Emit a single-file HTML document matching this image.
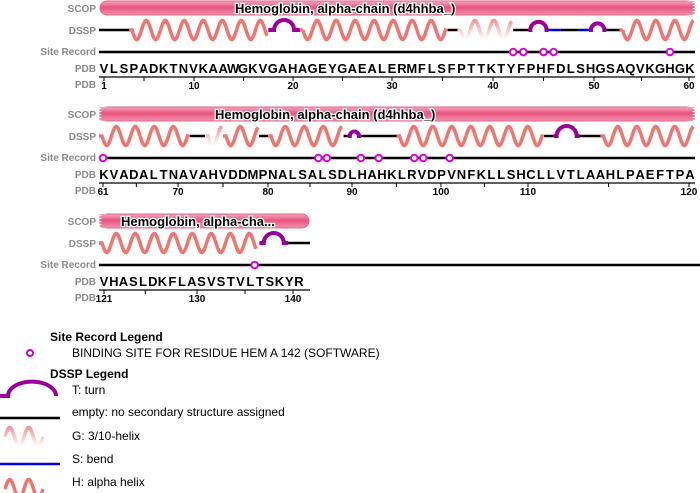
<!DOCTYPE html>
<html><head><meta charset="utf-8"><style>
body{margin:0;background:#fff;width:700px;height:493px;overflow:hidden;font-family:"Liberation Sans",sans-serif}
svg{display:block}
.lbl{font:bold 10px "Liberation Sans",sans-serif;fill:#8a8a8a;text-anchor:end}
.seq{font:bold 13px "Liberation Sans",sans-serif;fill:#000;text-anchor:middle}
.num{font:bold 10px "Liberation Sans",sans-serif;fill:#000;text-anchor:middle}
.scopt{font:bold 13px "Liberation Sans",sans-serif;fill:#000;stroke:#fff;stroke-width:2.5px;paint-order:stroke}
.lg{font:12px "Liberation Sans",sans-serif;fill:#000}
.lgh{font:bold 12px "Liberation Sans",sans-serif;fill:#000}
</style></head><body>
<svg id="c" width="700" height="493">
<defs>
<linearGradient id="scopg" x1="0" y1="0" x2="0" y2="1">
<stop offset="0" stop-color="#f7a6bf"/><stop offset="0.45" stop-color="#e8557f"/><stop offset="1" stop-color="#f291ad"/></linearGradient>
<linearGradient id="gg" x1="0" y1="0" x2="0" y2="1">
<stop offset="0" stop-color="#f59595"/><stop offset="0.5" stop-color="#fbc8c8"/><stop offset="1" stop-color="#ffffff"/></linearGradient>
</defs>
</svg>
<script>
const seqRows=["VLSPADKTNVKAAWGKVGAHAGEYGAEALERMFLSFPTTKTYFPHFDLSHGSAQVKGHGK","KVADALTNAVAHVDDMPNALSALSDLHAHKLRVDPVNFKLLSHCLLVTLAAHLPAEFTPA","VHASLDKFLASVSTVLTSKYR"];
const rowStart=[1,61,121];
const tickLabels=[[1,10,20,30,40,50,60],[61,70,80,90,100,110,120],[121,130,140]];
const scopLabels=["Hemoglobin, alpha-chain (d4hhba_)","Hemoglobin, alpha-chain (d4hhba_)","Hemoglobin, alpha-cha..."];
const siteResidues=[42,43,45,46,58,61,86,87,91,93,97,98,101,136];
// DSSP segments: [type, startResidue, endResidue]
const dsspSegs=[["-",0.5,3.5],["H",3.5,17.5],["T",17.5,20.7],["H",20.7,35.5],["-",35.5,36.5],["G",36.5,42],["-",42,43.5],["T",43.5,45.5],["S",45.5,46.7],["-",46.7,48.5],["S",48.5,49.5],["T",49.5,51.3],["-",51.3,52.7],["H",52.7,60.5],
["H",60.5,71.3],["-",71.3,73],["G",73,75],["H",75,79],["-",79,80],["H",80,89],["-",89,89.5],["T",89.5,91],["-",91,95],["H",95,111],["-",111,111.6],["T",111.6,113.2],["-",113.2,114.5],["H",114.5,120.5],
["H",120.5,136.3],["T",136.5,139.5],["-",139.5,141.5]];
const knotsRes=[[0.5,1,10,20,30,40,50,60,60.5],[60.5,61,70,80,90,100,110,120,120.5],[120.5,121,130,140,141.5]];
const knotsX=[[99,104,194,293,392,493,594,689,695],[99,103,178,268,352,441,528,689,695],[99,104,197,293,310]];
const rowY=[0,106,213];
const svg=document.getElementById('c');
const NS='http://www.w3.org/2000/svg';
function mk(t,a,p){const e=document.createElementNS(NS,t);for(const k in a)e.setAttribute(k,a[k]);(p||svg).appendChild(e);return e;}
function xs(r,i){const R=knotsRes[r],X=knotsX[r];if(i<=R[0])return X[0];for(let k=1;k<R.length;k++){if(i<=R[k])return X[k-1]+(i-R[k-1])/(R[k]-R[k-1])*(X[k]-X[k-1]);}return X[X.length-1];}
function rowOf(i){return i<=60.5?0:(i<=120.5?1:2);}
function wave(x1,x2,y){let d='';const P=19,A=9.5;for(let x=x1;x<=x2;x+=1){const yy=y+A*Math.sin((x-x1)/P*2*Math.PI);d+=(d?'L':'M')+x.toFixed(1)+' '+yy.toFixed(1);}return d;}
for(let r=0;r<3;r++){
  const y0=rowY[r];const g=mk('g',{});
  
  
  [['SCOP',12],['DSSP',34],['Site Record',55],['PDB',72],['PDB',88]].forEach(([t,yy])=>{const e=mk('text',{x:96,y:y0+yy,class:'lbl'},g);e.textContent=t;
    });
  const xL=knotsX[r][0],xR=knotsX[r][knotsX[r].length-1];
  const sb=mk('rect',{x:xL+1,y:y0+1,width:xR-xL-2,height:14,rx:7,fill:'url(#scopg)',stroke:'#e06a8c','stroke-width':1},g);
  
  if(r>0){mk('rect',{x:xL,y:y0+1,width:8,height:14,fill:'url(#scopg)'},g);for(let k=0;k<5;k++)mk('path',{d:`M${xL-1} ${y0+1+k*3}l4 1.5l-4 1.5z`,fill:'#fff'},g);}
  if(r<2){mk('rect',{x:xR-8,y:y0+1,width:8,height:14,fill:'url(#scopg)'},g);for(let k=0;k<5;k++)mk('path',{d:`M${xR+1} ${y0+1+k*3}l-4 1.5l4 1.5z`,fill:'#fff'},g);}
  const st=mk('text',{x:r==0?235:(r==1?215:121),y:y0+13,class:'scopt'},g);st.textContent=scopLabels[r];
  
  const sl=mk('line',{x1:xL,x2:r==2?700:xR,y1:y0+52,y2:y0+52,stroke:'#000','stroke-width':2.5},g);
  
  const s=seqRows[r];
  const step=r==2?9.75:9.93;
  for(let k=0;k<s.length;k++){const t=mk('text',{x:(104+k*step).toFixed(1),y:y0+73,class:'seq'},g);t.textContent=s[k];
    }
  const ax=mk('line',{x1:xL,x2:xR,y1:y0+77,y2:y0+77,stroke:'#000','stroke-width':1.2},g);
  
  for(let i=rowStart[r];i<rowStart[r]+s.length;i++){if(i%5==0||i==rowStart[r]){mk('line',{x1:xs(r,i),x2:xs(r,i),y1:y0+77,y2:y0+81,stroke:'#000'},g);}}
  tickLabels[r].forEach(v=>{const t=mk('text',{x:xs(r,v).toFixed(1),y:y0+89,class:'num'},g);t.textContent=v;
    });
}
dsspSegs.forEach(([tp,a,b])=>{
  const r=rowOf((a+b)/2);const y=rowY[r]+30;const x1=xs(r,a),x2=xs(r,b);let e;
  if(tp=='-'){e=mk('line',{x1,x2,y1:y,y2:y,stroke:'#000','stroke-width':2.5});}
  else if(tp=='S'){e=mk('line',{x1,x2,y1:y,y2:y,stroke:'#0000dd','stroke-width':2.5});}
  else if(tp=='T'){const m=(x1+x2)/2,w=Math.min(10,(x2-x1)/2-2);e=mk('path',{d:`M${x1} ${y}L${m-w} ${y}A${w} ${w} 0 0 1 ${m+w} ${y}L${x2} ${y}`,fill:'none',stroke:'#990099','stroke-width':4});}
  else {e=mk('path',{d:`M${x1} ${y}L${x1+3} ${y}`+wave(x1+3,x2-1,y).replace('M','L'),fill:'none',stroke:tp=='H'?'#f07570':'url(#gg)','stroke-width':3.5});}
  
  
});
siteResidues.forEach(i=>{const r=rowOf(i);const c=mk('circle',{cx:xs(r,i),cy:rowY[r]+52,r:3.3,fill:'#fff',stroke:'#dd00dd','stroke-width':2});
  });
const lg=mk('g',{});
function lt(x,y,t,c){const e=mk('text',{x,y,class:c},lg);e.textContent=t;}
lt(50,341,'Site Record Legend','lgh');
mk('circle',{cx:30,cy:353,r:3,fill:'#fff',stroke:'#cc00cc','stroke-width':2},lg);
lt(72,357,'BINDING SITE FOR RESIDUE HEM A 142 (SOFTWARE)','lg');
lt(50,378,'DSSP Legend','lgh');
mk('path',{d:'M0 396L8 396A20 12 0 0 1 56 396',fill:'none',stroke:'#990099','stroke-width':4},lg);
lt(72,394,'T: turn','lg');
mk('line',{x1:0,x2:60,y1:418,y2:418,stroke:'#000','stroke-width':2.5},lg);
lt(72,416,'empty: no secondary structure assigned','lg');
mk('path',{d:wave(5,43,437).replace(/ ([\d.]+)/g,(m,v)=>' '+(874-parseFloat(v)).toFixed(1)),fill:'none',stroke:'url(#gg)','stroke-width':3.5},lg);
lt(72,440,'G: 3/10-helix','lg');
mk('line',{x1:0,x2:60,y1:464,y2:464,stroke:'#0000dd','stroke-width':2.5},lg);
lt(72,463,'S: bend','lg');
mk('path',{d:wave(5,43,489).replace(/ ([\d.]+)/g,(m,v)=>' '+(978-parseFloat(v)).toFixed(1)),fill:'none',stroke:'#f07570','stroke-width':3.5},lg);
lt(72,486,'H: alpha helix','lg');
</script>
</body></html>
